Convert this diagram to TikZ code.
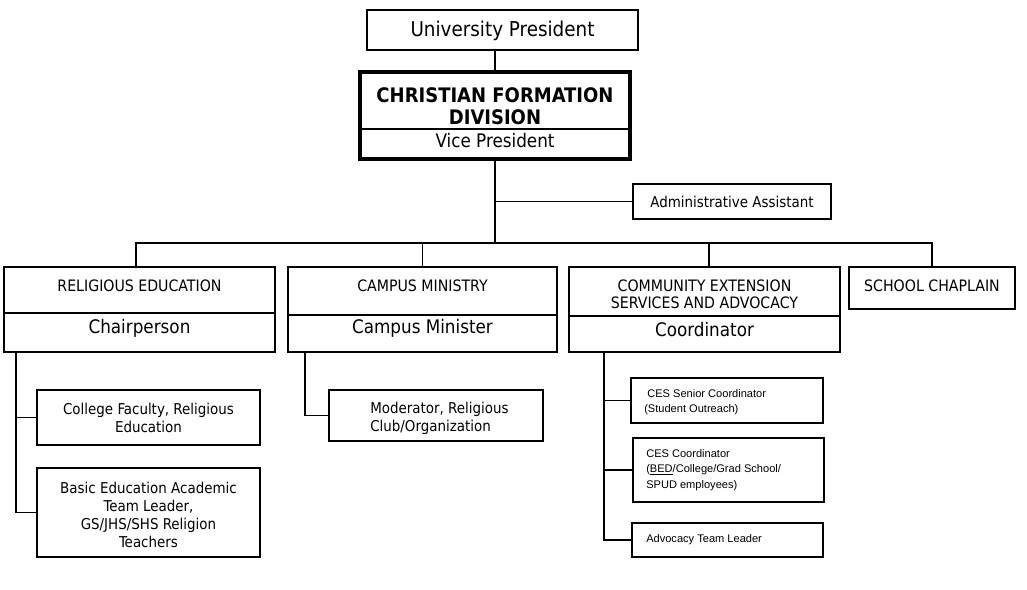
\documentclass[tikz,border=0pt]{standalone}
\usepackage{fontspec}
\setmainfont{DejaVu Sans Condensed}
\newfontfamily\arialf{Liberation Sans}
\usetikzlibrary{fit}
\tikzset{
  x=0.75pt, y=-0.75pt,
  box/.style={draw, line width=1.1pt, inner sep=0pt, rectangle},
  thickbox/.style={draw, line width=2.3pt, inner sep=0pt, rectangle},
  conn/.style={line width=1.1pt},
  txt/.style={inner sep=0pt, align=center, font=\fontsize{11.2pt}{13.6pt}\selectfont},
  captxt/.style={inner sep=0pt, align=center, font=\fontsize{11.8pt}{12.9pt}\selectfont},
  bigtxt/.style={inner sep=0pt, align=center, font=\fontsize{14pt}{16pt}\selectfont},
  smalltxt/.style={inner sep=0pt, align=left, anchor=west, font=\arialf\fontsize{8.3pt}{11.5pt}\selectfont},
}
\begin{document}
\begin{tikzpicture}
\useasboundingbox (0,0) rectangle (1027,589);
% top
\node[box, fit={(367,10) (638,50)}] (up) {};
\node[bigtxt, font=\fontsize{15.3pt}{17pt}\selectfont] (uptxt) at (502.5,31) {University President};
\node[thickbox, fit={(360,72) (630,159)}] (cfd) {};
\node[bigtxt, font=\bfseries\fontsize{15pt}{16.5pt}\selectfont] (cfdtxt) at (495,106) {CHRISTIAN FORMATION\\DIVISION};
\draw[line width=1.1pt] (360,129) -- (630,129);
\node[bigtxt] (vptxt) at (495,141) {Vice President};
\node[box, fit={(633,184) (831,219)}] (adm) {};
\node[txt] (admtxt) at (732,202) {Administrative Assistant};
% second level
\node[box, fit={(4,267) (275,352)}] (re) {};
\draw[line width=1.1pt] (4,313) -- (275,313);
\node[captxt] (retxt) at (139.5,286) {RELIGIOUS EDUCATION};
\node[bigtxt] (rerole) at (139.5,328) {Chairperson};
\node[box, fit={(288,267) (557,352)}] (cm) {};
\draw[line width=1.1pt] (288,315) -- (557,315);
\node[captxt] (cmtxt) at (422.5,286) {CAMPUS MINISTRY};
\node[bigtxt] (cmrole) at (422.5,328) {Campus Minister};
\node[box, fit={(569,267) (840,352)}] (ces) {};
\draw[line width=1.1pt] (569,316) -- (840,316);
\node[captxt] (cestxt) at (704.5,294) {COMMUNITY EXTENSION\\SERVICES AND ADVOCACY};
\node[bigtxt] (cesrole) at (704.5,330) {Coordinator};
\node[box, fit={(849,267) (1015,309)}] (ch) {};
\node[captxt] (chtxt) at (932,286) {SCHOOL CHAPLAIN};
% third level
\node[box, fit={(37,390) (260,445)}] (cf) {};
\node[txt] (cftxt) at (148.5,418) {College Faculty, Religious\\Education};
\node[box, fit={(37,468) (260,557)}] (bed) {};
\node[txt] (bedtxt) at (148.5,515) {Basic Education Academic\\Team Leader,\\GS/JHS/SHS Religion\\Teachers};
\node[box, fit={(329,390) (543,441)}] (mod) {};
\node[txt, align=left, anchor=west] (modtxt) at (370,418) {Moderator, Religious\\Club/Organization};
\node[box, fit={(631,378) (823,423)}] (sen) {};
\node[smalltxt] (sentxt) at (644,402) {\ CES Senior Coordinator\\(Student Outreach)};
\node[box, fit={(633,438) (824,502)}] (cc) {};
\node[smalltxt] (cctxt) at (646,470) {CES Coordinator\\(\underline{BED}/College/Grad School/\\SPUD employees)};
\node[box, fit={(632,523) (823,557)}] (adv) {};
\node[smalltxt] (advtxt) at (646,540) {Advocacy Team Leader};
% connectors
\coordinate (busc) at (495,243);
\coordinate (retr) at (16,352);
\coordinate (cmtr) at (305,352);
\coordinate (cestr) at (604,352);
\draw[conn] (cfd.north) -- (cfd.north |- up.south);
\draw[conn] (cfd.south) -- (busc);
\draw[conn] (cfd.south |- adm.west) -- (adm.west);
\draw[conn] (re.north -| 136,0) |- (busc) -| (ch.north);
\draw[conn] (cm.north) -- (cm.north |- busc);
\draw[conn] (ces.north -| 709,0) -- (709,243);
\draw[conn] (busc) -- (709,243);
\draw[conn] (retr) |- (bed.west);
\draw[conn] (retr |- cf.west) -- (cf.west);
\draw[conn] (cmtr) |- (mod.west);
\draw[conn] (cestr) |- (adv.west);
\draw[conn] (cestr |- sen.west) -- (sen.west);
\draw[conn] (cestr |- cc.west) -- (cc.west);
\end{tikzpicture}
\end{document}
